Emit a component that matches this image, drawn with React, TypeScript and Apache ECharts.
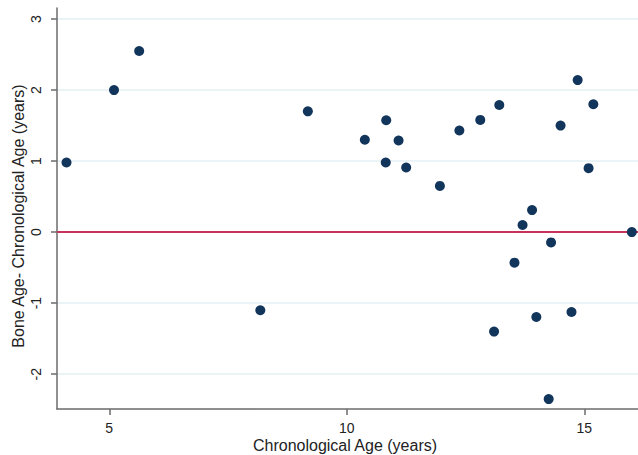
import React, { useEffect, useRef } from "react";
import * as echarts from "echarts";

const chronoAge = [4.1, 5.1, 5.63, 8.18, 9.18, 10.38, 10.83, 10.82, 11.09, 11.25, 11.96, 12.37, 12.81, 13.21, 14.5, 14.86, 15.19, 15.09, 13.9, 13.7, 16.0, 14.3, 13.53, 13.1, 13.99, 14.73, 14.25];
const ageDiff = [0.98, 2.0, 2.55, -1.1, 1.7, 1.3, 1.575, 0.98, 1.29, 0.91, 0.65, 1.43, 1.58, 1.79, 1.5, 2.14, 1.8, 0.9, 0.31, 0.1, 0.0, -0.145, -0.43, -1.4, -1.195, -1.125, -2.35];
const xTicks = [5, 10, 15];
const yTicks = [-2, -1, 0, 1, 2, 3];
const xTitle = "Chronological Age (years)";
const yTitle = "Bone Age- Chronological Age (years)";

export default function App() {
  const ref = useRef<HTMLDivElement>(null);
  useEffect(() => {
    if (!ref.current) return;
    const chart = echarts.init(ref.current, null, { renderer: "svg" });
    const font = "Arial, 'Liberation Sans', sans-serif";
    const axisColor = "#6b6b6b";
    chart.setOption({
      animation: false,
      backgroundColor: "#ffffff",
      grid: { left: 57, right: 0, top: 8, bottom: 46, containLabel: false },
      xAxis: {
        type: "value",
        min: 3.9,
        max: 16.13,
        axisLine: { show: true, onZero: false, lineStyle: { color: axisColor, width: 1.5 } },
        axisTick: { show: true, length: 6, customValues: xTicks, lineStyle: { color: axisColor, width: 1.5 } },
        axisLabel: { customValues: xTicks, color: "#222", fontSize: 14, fontFamily: font, margin: 12 },
        splitLine: { show: false },
      },
      yAxis: {
        type: "value",
        min: -2.49,
        max: 3.155,
        axisLine: { show: true, onZero: false, lineStyle: { color: axisColor, width: 1.5 } },
        axisTick: { show: true, length: 6, customValues: yTicks, lineStyle: { color: axisColor, width: 1.5 } },
        axisLabel: { customValues: yTicks, rotate: 90, color: "#222", fontSize: 14, fontFamily: font, margin: 14 },
        splitLine: { show: true, lineStyle: { color: "#e3eff2", width: 1.5 } },
      },
      graphic: [
        {
          type: "text",
          x: 18,
          y: 216,
          rotation: Math.PI / 2,
          style: { text: yTitle, fill: "#222", font: `16px ${font}`, textAlign: "center", textVerticalAlign: "middle" },
        },
        {
          type: "text",
          x: 345,
          y: 445,
          style: { text: xTitle, fill: "#222", font: `16px ${font}`, textAlign: "center", textVerticalAlign: "middle" },
        },
      ],
      series: [
        {
          type: "scatter",
          symbol: "circle",
          symbolSize: 10,
          itemStyle: { color: "#12355c", opacity: 1 },
          data: chronoAge.map((x, i) => [x, ageDiff[i]]),
          z: 3,
          markLine: {
            silent: true,
            symbol: ["none", "none"],
            label: { show: false },
            lineStyle: { color: "#c9335b", width: 2, type: "solid" },
            data: [{ yAxis: 0 }],
            z: 2,
          },
        },
      ],
    });
    return () => chart.dispose();
  }, []);
  return <div ref={ref} style={{ width: 638, height: 455, position: "fixed", left: 0, top: 0 }} />;
}
